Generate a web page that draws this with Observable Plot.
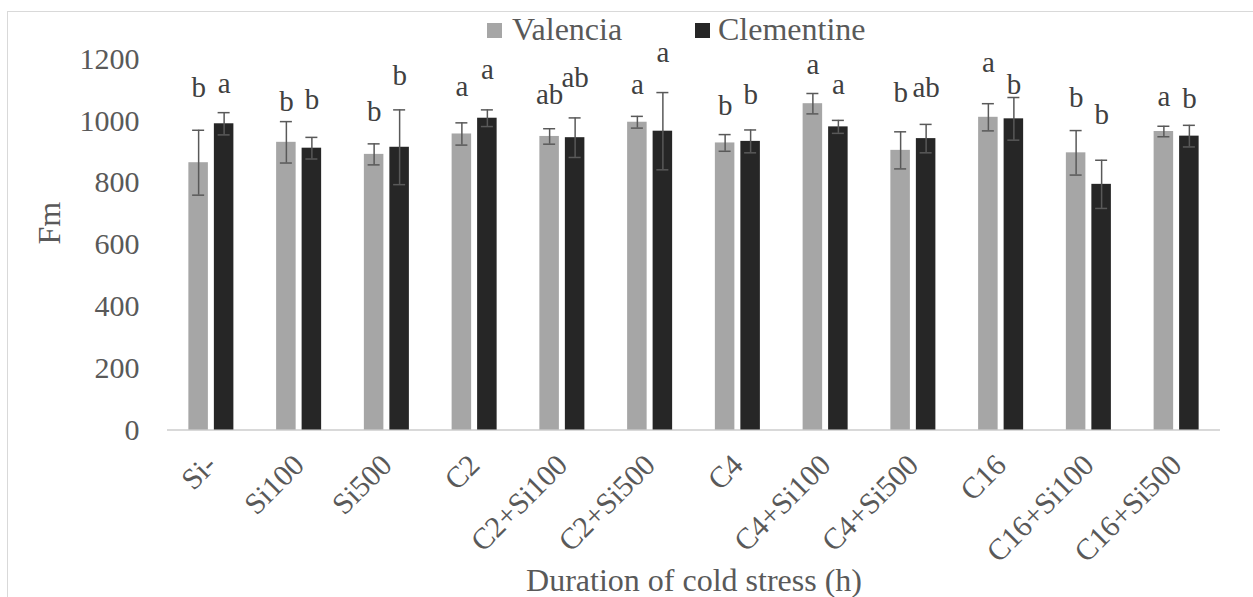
<!DOCTYPE html>
<html>
<head>
<meta charset="utf-8">
<script src="https://cdn.jsdelivr.net/npm/d3@7"></script>
<script src="https://cdn.jsdelivr.net/npm/@observablehq/plot@0.6"></script>
<style>
  body { margin: 0; background: #fff; }
  #wrap { position: relative; width: 1253px; height: 597px; overflow: hidden; font-family: "Liberation Serif", "Times New Roman", serif; }
  #frame { position: absolute; left: 7px; top: 11px; width: 1300px; height: 700px; border: 1.5px solid #d9d9d9; box-sizing: border-box; }
  .sw { position: absolute; width: 15px; height: 15px; top: 23px; }
  .lt { position: absolute; top: 13px; font-size: 32px; line-height: 32px; color: #595959; white-space: nowrap; }
  #chart { position: absolute; left: 0; top: 0; }
  #chart svg, #chart svg text, #chart svg g { font-family: "Liberation Serif", "Times New Roman", serif !important; }
</style>
</head>
<body>
<div id="wrap">
  <div id="frame"></div>
  <div id="chart"></div>
  <div class="sw" style="left:487px;background:#a6a6a6"></div>
  <div class="lt" style="left:512px">Valencia</div>
  <div class="sw" style="left:695px;background:#262626"></div>
  <div class="lt" style="left:718px">Clementine</div>
</div>
<script>
const categories = ["Si-","Si100","Si500","C2","C2+Si100","C2+Si500","C4","C4+Si100","C4+Si500","C16","C16+Si100","C16+Si500"];
const valencia      = [865, 931, 892, 958, 950, 996, 929, 1056, 905, 1012, 897, 966];
const valenciaErr   = [105, 67, 34, 36, 25, 19, 27, 33, 60, 44, 72, 17];
const clementine    = [991, 912, 915, 1009, 946, 967, 934, 981, 943, 1007, 795, 951];
const clementineErr = [36, 35, 121, 27, 64, 125, 37, 21, 46, 69, 78, 35];
const valenciaLetters   = ["b","b","b","a","ab","a","b","a","b","a","b","a"];
const clementineLetters = ["a","b","b","a","ab","a","b","a","ab","b","b","b"];
const valenciaLetterY   = [1077, 1032, 1001, 1082, 1056, 1088, 1018, 1153, 1061, 1158, 1045, 1050];
const clementineLetterY = [1090, 1039, 1115, 1136, 1109, 1190, 1056, 1088, 1077, 1088, 989, 1043];
const yTicks = [0, 200, 400, 600, 800, 1000, 1200];

const V = categories.map((c, i) => ({cat: c, value: valencia[i], err: valenciaErr[i], letter: valenciaLetters[i], ly: valenciaLetterY[i]}));
const C = categories.map((c, i) => ({cat: c, value: clementine[i], err: clementineErr[i], letter: clementineLetters[i], ly: clementineLetterY[i]}));

const FONT = "'Liberation Serif', 'Times New Roman', serif";
const errStyle = {stroke: "#595959", strokeWidth: 1.5};
function seriesMarks(rows, fill, side) {
  const left = side < 0;
  const dx = side * 12.75;
  const capInsets = {insetLeft: left ? 3.75 : 29.25, insetRight: left ? 29.25 : 3.75};
  return [
    Plot.barY(rows, {x: "cat", y: "value", fill, insetLeft: left ? 0 : 25.5, insetRight: left ? 25.5 : 0}),
    Plot.ruleX(rows, {x: "cat", y1: d => d.value - d.err, y2: d => d.value + d.err, dx, ...errStyle}),
    Plot.tickY(rows, {x: "cat", y: d => d.value + d.err, ...capInsets, ...errStyle}),
    Plot.tickY(rows, {x: "cat", y: d => d.value - d.err, ...capInsets, ...errStyle}),
    Plot.text(rows, {x: "cat", y: "ly", text: "letter", dx, lineAnchor: "bottom", fontSize: 29, fontFamily: FONT, fill: "#404040"})
  ];
}

const chart = Plot.plot({
  width: 1253,
  height: 597,
  marginLeft: 167,
  marginRight: 33,
  marginTop: 58.7,
  marginBottom: 167.5,
  style: {fontFamily: FONT, color: "#595959", background: "transparent", overflow: "visible"},
  x: {domain: categories, paddingInner: 0.487, paddingOuter: 0.2435, round: false},
  y: {domain: [0, 1200]},
  marks: [
    Plot.ruleY([0], {stroke: "#d9d9d9", strokeWidth: 2}),
    ...seriesMarks(V, "#a6a6a6", -1),
    ...seriesMarks(C, "#262626", 1),
    Plot.axisY({ticks: yTicks, tickSize: 0, tickPadding: 28, fontSize: 30, fontFamily: FONT, tickFormat: d3.format("d"), label: null}),
    Plot.axisX({tickRotate: -45, tickSize: 0, tickPadding: 30, fontSize: 30, fontFamily: FONT, label: null}),
    Plot.text(["Fm"], {text: d => d, frameAnchor: "left", dx: -118, rotate: -90, fontSize: 32, fontFamily: FONT, fill: "#595959"}),
    Plot.text(["Duration of cold stress (h)"], {text: d => d, frameAnchor: "bottom", dy: 161, lineAnchor: "bottom", fontSize: 32, fontFamily: FONT, fill: "#595959"})
  ]
});
document.getElementById("chart").appendChild(chart);
</script>
</body>
</html>
